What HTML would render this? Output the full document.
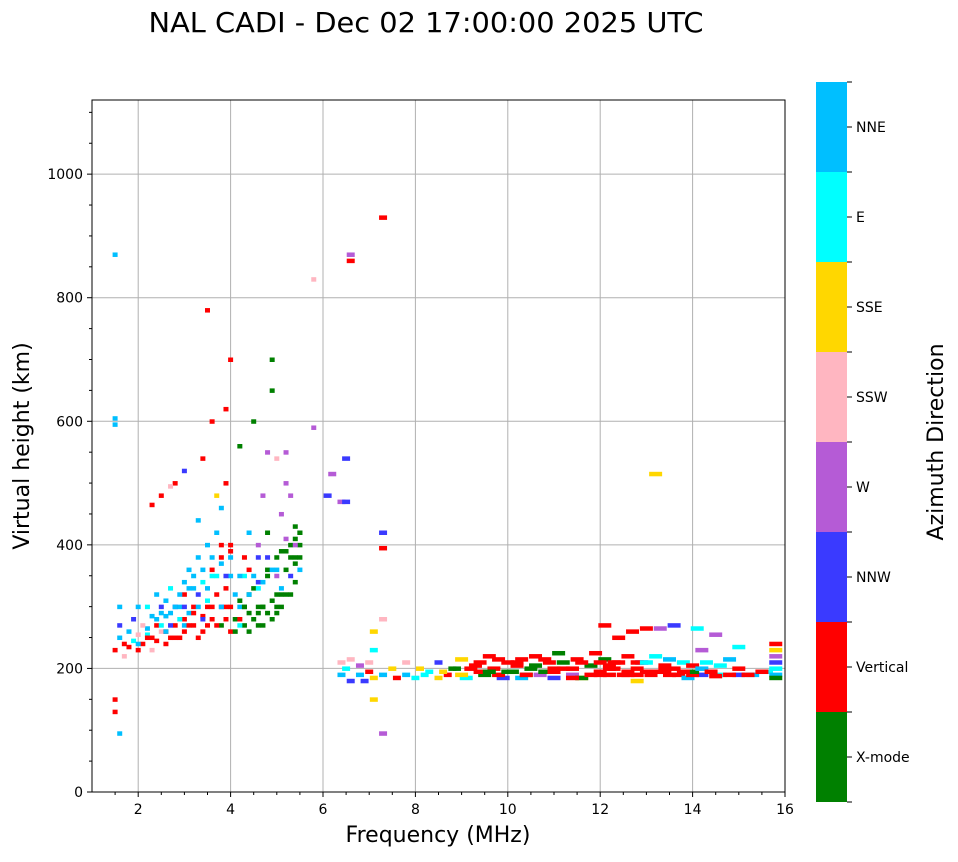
<!DOCTYPE html>
<html><head><meta charset="utf-8"><style>
body{margin:0;background:#fff;}
svg text{font-family:"DejaVu Sans","Liberation Sans",sans-serif;fill:#000;}
</style></head><body>
<svg id="chart" width="958" height="857" viewBox="0 0 958 857" xmlns="http://www.w3.org/2000/svg">
<text x="426" y="32" font-size="28" text-anchor="middle" textLength="555" lengthAdjust="spacingAndGlyphs">NAL CADI - Dec 02 17:00:00 2025 UTC</text>
<g id="grid"></g>
<g id="marks"></g>
<rect x="92" y="100" width="693" height="692" fill="none" stroke="#000" stroke-width="1"/>
<g id="axes"></g>
<text x="438" y="842" font-size="22" text-anchor="middle">Frequency (MHz)</text>
<text transform="translate(29,446) rotate(-90)" font-size="22" text-anchor="middle">Virtual height (km)</text>
<g id="cbar"></g>
<text transform="translate(943,442) rotate(-90)" font-size="22" text-anchor="middle">Azimuth Direction</text>
</svg>
<script>
const dirLabels=["X-mode","Vertical","NNW","W","SSW","SSE","E","NNE"];
const dirColors=["#008000","#ff0000","#3a3aff","#b55bd6","#ffb6c1","#ffd700","#00ffff","#00bfff"];
const xTicks=[2,4,6,8,10,12,14,16];
const yTicks=[0,200,400,600,800,1000];
const freqs=[1.5,1.5,1.5,1.5,1.5,1.6,1.5,1.6,1.6,1.6,1.7,1.7,1.8,1.8,1.9,1.9,2.0,2.0,2.0,
2.1,2.2,2.2,2.3,2.4,2.4,2.5,2.5,2.6,2.7,2.7,2.8,2.8,2.9,2.9,3.0,3.0,3.0,2.3,2.5,2.7,
3.1,3.2,3.2,3.3,3.3,3.4,3.4,3.5,3.5,3.6,3.6,3.6,3.7,3.7,3.8,3.8,3.8,3.9,3.9,3.9,4.0,4.0,4.0,4.0,3.5,3.7,3.3,
4.1,4.2,4.2,4.3,4.3,4.4,4.4,4.5,4.5,4.6,4.6,4.7,4.7,4.8,4.8,4.8,4.9,4.9,4.9,5.0,5.0,5.1,5.1,5.2,5.2,5.3,5.3,5.4,5.4,5.5,5.5,5.2,5.0,4.6,4.4,5.3,
2.2,2.4,2.6,2.8,3.0,3.2,3.4,3.6,3.8,4.0,4.2,4.4,4.6,4.8,5.0,5.2,5.4,3.1,3.5,3.9,4.3,4.7,5.1,5.5,2.6,3.0,3.4,3.8,4.2,4.6,5.0,5.4,
5.8,5.8,6.1,6.2,6.4,6.5,6.6,6.6,6.5,7.3,7.3,7.3,7.3,13.2,
6.4,6.4,6.5,6.6,6.6,6.8,6.8,6.9,7.0,7.0,7.1,7.1,7.1,7.1,7.3,7.3,7.5,7.6,7.8,7.8,8.0,8.1,
8.3,8.5,8.5,8.7,8.9,9.0,9.1,9.3,9.5,9.6,9.7,9.9,10.0,10.1,10.3,10.3,10.5,10.6,10.7,10.9,11.0,11.1,11.2,11.4,11.5,11.6,11.8,11.9,12.0,12.1,12.1,
12.2,12.3,12.4,12.5,12.6,12.7,12.8,12.8,12.9,13.0,13.1,13.2,13.3,13.4,13.5,13.6,13.7,13.8,13.9,14.1,14.2,14.2,14.3,14.5,14.6,14.8,15.0,15.0,15.3,15.6,15.8,15.8,15.8,15.8,15.8,15.8,
12.3,12.6,13.0,13.5,14.0,14.5,9.8,10.4,11.0,11.6,12.2,12.8,13.4,14.0,8.8,9.4,10.2,10.8,11.4,12.0,
2.0,2.1,2.2,2.3,2.3,2.4,2.5,2.5,2.6,2.6,2.7,2.7,2.8,2.8,2.9,2.9,3.0,3.0,3.1,3.1,3.2,3.2,3.3,3.3,3.4,3.4,3.5,3.5,3.6,3.6,3.7,3.7,3.8,3.8,3.9,3.9,4.0,4.0,
4.1,4.1,4.2,4.2,4.3,4.3,4.4,4.4,4.5,4.5,4.6,4.6,4.7,4.7,4.8,4.8,4.9,4.9,5.0,5.0,5.1,5.1,5.2,5.2,5.3,5.3,5.4,5.4,5.5,5.5,
8.2,8.6,9.0,9.2,9.4,9.6,9.8,10.0,10.2,10.4,10.6,10.8,11.0,11.2,11.4,11.6,11.8,12.0,12.2,12.4,12.6,12.8,13.0,13.2,13.4,13.6,13.8,14.0,14.2,14.4,14.6,14.8,15.0,15.2,15.5,15.8];
const heights=[870,605,595,150,130,95,230,250,270,300,240,220,260,235,280,245,230,255,300,
240,265,300,250,280,320,260,300,240,290,330,270,500,300,250,340,520,280,465,480,495,
360,300,270,380,320,260,540,400,300,350,280,600,420,320,460,380,270,300,500,620,700,400,350,260,780,480,440,
280,300,560,270,350,420,290,330,600,270,380,480,300,550,350,420,650,700,280,320,380,450,300,360,500,400,320,430,370,400,360,550,540,330,360,480,
255,270,285,300,320,330,340,360,370,390,310,320,340,360,360,390,410,290,310,330,300,300,320,420,260,270,285,300,270,290,300,380,
590,830,480,515,470,470,870,860,540,930,420,395,95,515,
210,190,200,180,215,190,205,180,210,195,185,230,150,260,190,280,200,185,210,190,185,200,
195,210,185,190,200,215,185,205,190,220,200,185,210,195,215,185,200,220,190,210,185,225,200,190,215,185,205,225,195,270,215,
190,210,250,190,220,260,190,180,210,265,190,220,265,195,215,270,190,210,185,265,230,190,210,255,190,215,235,190,190,195,240,230,220,210,200,190,
200,195,195,190,190,188,190,190,200,185,205,210,200,195,200,195,210,195,185,190,
240,270,250,230,285,245,270,290,260,310,250,270,300,250,280,320,260,300,270,330,290,350,250,300,280,360,270,330,300,380,270,350,300,400,280,350,300,380,
260,320,280,350,300,380,260,320,280,350,300,400,270,340,290,380,310,360,290,350,330,390,320,410,350,380,340,400,380,420,
190,195,190,200,210,195,215,195,205,190,205,215,195,210,200,210,190,210,200,210,190,200,210,195,205,200,195,205,200,195,205,190,200,190,195,185];
const dirs=[7,7,7,1,1,7,1,7,2,7,1,4,7,1,2,6,1,4,7,
1,7,6,1,7,7,4,2,1,7,6,1,1,7,1,7,2,1,1,1,4,
7,1,1,7,2,1,1,7,1,6,1,1,7,1,7,1,0,1,1,1,1,1,7,1,1,5,7,
0,7,0,0,6,7,0,0,0,0,2,3,0,3,0,0,0,0,0,0,0,3,0,0,3,0,0,0,0,0,7,3,4,6,1,3,
6,1,7,2,1,7,6,1,7,1,0,0,2,0,7,0,0,7,6,1,0,0,0,0,1,7,1,2,6,0,0,0,
3,4,2,3,3,2,3,1,2,1,2,1,3,5,
4,7,6,2,4,7,3,2,4,1,5,6,5,5,7,4,5,1,4,7,6,5,
6,2,5,1,0,5,6,1,0,1,1,2,1,0,1,7,0,1,3,1,2,0,1,3,1,5,0,1,1,1,0,
1,1,1,1,1,1,1,5,2,1,1,6,3,1,7,2,1,6,7,6,3,2,6,3,6,7,6,2,7,6,1,5,3,2,6,7,
1,1,1,1,1,1,1,0,1,0,1,1,1,0,0,1,1,0,1,1,
7,4,1,4,7,1,6,7,7,7,1,2,7,1,6,7,1,2,1,7,1,7,1,7,2,7,1,7,1,7,1,6,7,1,1,2,1,7,
0,7,1,7,0,1,0,7,0,7,0,3,0,7,0,2,0,7,0,3,7,0,0,3,2,0,0,3,0,0,
6,5,5,1,1,0,1,0,1,1,0,1,1,0,1,1,1,1,1,1,1,1,6,1,1,1,1,1,7,1,6,1,1,1,1,0];
const NS="http://www.w3.org/2000/svg";
const X0=92,X1=785,Y0=792,Y1=100,FMIN=1,FMAX=16,HMIN=0,HMAX=1120;
function xs(f){return X0+(f-FMIN)/(FMAX-FMIN)*(X1-X0);}
function ys(h){return Y0-(h-HMIN)/(HMAX-HMIN)*(Y0-Y1);}
function mk(tag,attrs,parent){const e=document.createElementNS(NS,tag);for(const k in attrs)e.setAttribute(k,attrs[k]);parent.appendChild(e);return e;}
const grid=document.getElementById('grid'),axes=document.getElementById('axes'),marks=document.getElementById('marks'),cbar=document.getElementById('cbar');
xTicks.forEach(t=>{const x=xs(t);
 const g=mk('line',{x1:x,x2:x,y1:Y1,y2:Y0,stroke:'#b0b0b0','stroke-width':1},grid);
 
 
 const tk=mk('line',{x1:x,x2:x,y1:Y0,y2:Y0+5,stroke:'#000'},axes);
 
 
 const tx=mk('text',{x:x,y:Y0+22,'font-size':14,'text-anchor':'middle'},axes);tx.textContent=t;
 
 
});
for(let f=1.5;f<16;f+=0.5){if(Number.isInteger(f/2))continue;const x=xs(f);
 const m=mk('line',{x1:x,x2:x,y1:Y0,y2:Y0+3,stroke:'#000'},axes);
 
 }
yTicks.forEach(t=>{const y=ys(t);
 const g=mk('line',{x1:X0,x2:X1,y1:y,y2:y,stroke:'#b0b0b0','stroke-width':1},grid);
 
 
 const tk=mk('line',{x1:X0-5,x2:X0,y1:y,y2:y,stroke:'#000'},axes);
 
 
 const tx=mk('text',{x:X0-9,y:y+5,'font-size':14,'text-anchor':'end'},axes);tx.textContent=t;
 
 
});
for(let h=50;h<1120;h+=50){if(h%200===0)continue;const y=ys(h);
 const m=mk('line',{x1:X0-3,x2:X0,y1:y,y2:y,stroke:'#000'},axes);
 
 }
for(let i=0;i<freqs.length;i++){const f=freqs[i];const w=f<6?5:(f<9?8:13);
 const r=mk('rect',{x:xs(f)-w/2,y:ys(heights[i])-2,width:w,height:4.5,fill:dirColors[dirs[i]]},marks);
 
 }
const CB0=802,CB1=82,segH=(CB0-CB1)/dirLabels.length;
dirLabels.forEach((lab,i)=>{const y=CB0-(i+1)*segH;
 const r=mk('rect',{x:816,y:y,width:31,height:segH,fill:dirColors[i]},cbar);
 
 
 const tk=mk('line',{x1:847,x2:852,y1:y+segH/2,y2:y+segH/2,stroke:'#000'},cbar);
 
 
 const tx=mk('text',{x:856,y:y+segH/2+5,'font-size':14},cbar);tx.textContent=lab;
 
 
});
for(let i=0;i<=dirLabels.length;i++){const y=CB0-i*segH;
 const m=mk('line',{x1:847,x2:852,y1:y,y2:y,stroke:'#000'},cbar);
 
 }
</script>
</body></html>
